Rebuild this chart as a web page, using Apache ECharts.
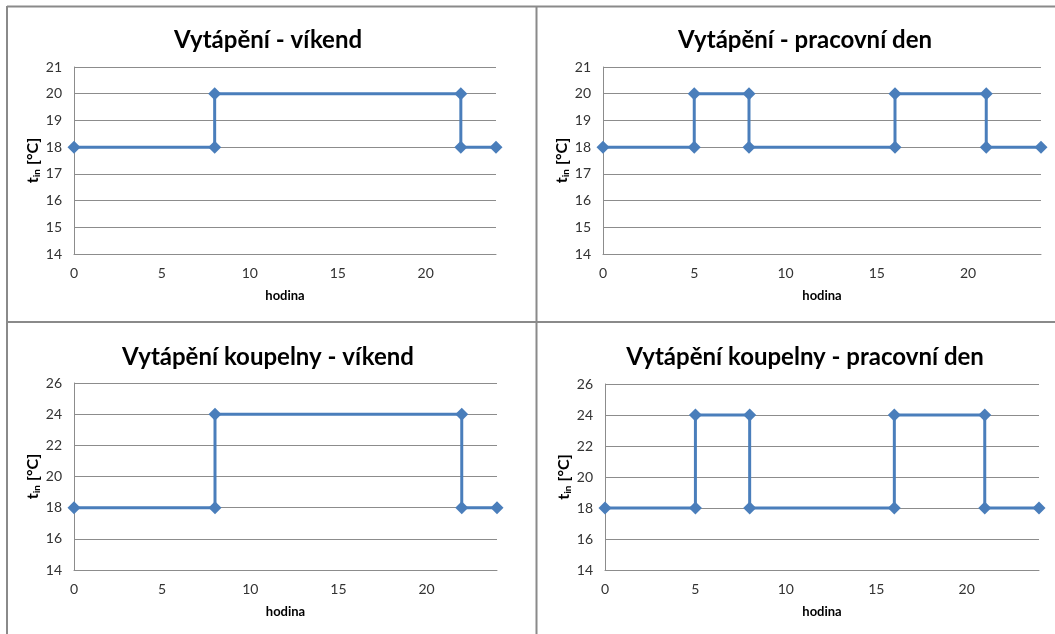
<!DOCTYPE html>
<html>
<head>
<meta charset="utf-8">
<script src="https://cdn.jsdelivr.net/npm/echarts@6/dist/echarts.min.js"></script>
<style>html,body{margin:0;padding:0;background:#fff}#c{width:1055px;height:634px}</style>
</head>
<body>
<div id="c"></div>
<script>
// ---- data ----
const titles = ['Vytápění - víkend', 'Vytápění - pracovní den', 'Vytápění koupelny - víkend', 'Vytápění koupelny - pracovní den'];
const xWeekend = [0, 8, 8, 22, 22, 24];
const yWeekend = [18, 18, 20, 20, 18, 18];
const xWorkday = [0, 5, 5, 8, 8, 16, 16, 21, 21, 24];
const yWorkday = [18, 18, 20, 20, 18, 18, 20, 20, 18, 18];
const xBathWeekend = [0, 8, 8, 22, 22, 24];
const yBathWeekend = [18, 18, 24, 24, 18, 18];
const xBathWorkday = [0, 5, 5, 8, 8, 16, 16, 21, 21, 24];
const yBathWorkday = [18, 18, 24, 24, 18, 18, 24, 24, 18, 18];
const xAxisName = 'hodina';
const yRangeTop = {min: 14, max: 21, interval: 1};
const yRangeBottom = {min: 14, max: 26, interval: 2};
const xRange = {min: 0, max: 24, interval: 5};

const zip = (xs, ys) => xs.map((x, i) => [x, ys[i]]);
const seriesData = [zip(xWeekend, yWeekend), zip(xWorkday, yWorkday), zip(xBathWeekend, yBathWeekend), zip(xBathWorkday, yBathWorkday)];
const yRanges = [yRangeTop, yRangeTop, yRangeBottom, yRangeBottom];

const FONT = 'Lato, "Open Sans", sans-serif';
const grids = [
  {left: 74, top: 67, width: 422, height: 187},
  {left: 603, top: 67, width: 438, height: 187},
  {left: 74, top: 383, width: 423, height: 187},
  {left: 605, top: 384, width: 434, height: 186}
];
const titleCenters = [[263, 35], [800, 35], [263, 352], [800, 352]];
const lineCol = '#8c8c8c';
const blue = '#4A7EBB';

const option = {
  animation: false,
  backgroundColor: '#fff',
  title: titles.map((t, i) => ({
    text: t,
    left: titleCenters[i][0], top: titleCenters[i][1],
    textAlign: 'center', textVerticalAlign: 'middle',
    textStyle: {fontFamily: FONT, fontWeight: 'bold', fontSize: 24, color: '#000'}
  })),
  grid: grids.map(g => Object.assign({containLabel: false}, g)),
  xAxis: grids.map((g, i) => ({
    type: 'value', gridIndex: i,
    min: xRange.min, max: xRange.max, interval: xRange.interval,
    name: xAxisName, nameLocation: 'middle', nameGap: 35,
    nameTextStyle: {fontFamily: FONT, fontWeight: 'bold', fontSize: 13, color: '#000'},
    axisLine: {show: true, lineStyle: {color: lineCol, width: 1}},
    axisTick: {show: false},
    splitLine: {show: false},
    axisLabel: {showMaxLabel: false, fontFamily: FONT, fontSize: 14, color: '#333', margin: 12}
  })),
  yAxis: grids.map((g, i) => ({
    type: 'value', gridIndex: i,
    min: yRanges[i].min, max: yRanges[i].max, interval: yRanges[i].interval,
    name: '{b|t}{s|in}{b| [°C]}', nameLocation: 'middle', nameGap: 27, nameRotate: 90,
    nameTextStyle: {
      fontFamily: FONT, fontWeight: 'bold', fontSize: 16, color: '#000',
      rich: {
        b: {fontFamily: FONT, fontWeight: 'bold', fontSize: 16, color: '#000', verticalAlign: 'middle'},
        s: {fontFamily: FONT, fontWeight: 'bold', fontSize: 10, color: '#000', padding: [8, 0, 0, 0], verticalAlign: 'middle'}
      }
    },
    axisLine: {show: true, lineStyle: {color: lineCol, width: 1}},
    axisTick: {show: false},
    splitLine: {show: true, lineStyle: {color: lineCol, width: 1}},
    axisLabel: {fontFamily: FONT, fontSize: 14, color: '#333', margin: 12}
  })),
  series: seriesData.map((d, i) => ({
    type: 'line', xAxisIndex: i, yAxisIndex: i,
    data: d,
    symbol: 'diamond', symbolSize: 13,
    lineStyle: {color: blue, width: 3},
    itemStyle: {color: blue},
    z: 3
  })),
  graphic: [
    {type: 'line', shape: {x1: 7, y1: 6.5, x2: 1055, y2: 6.5}, style: {stroke: '#8a8a8a', lineWidth: 2}},
    {type: 'line', shape: {x1: 7, y1: 6, x2: 7, y2: 634}, style: {stroke: '#8a8a8a', lineWidth: 2}},
    {type: 'line', shape: {x1: 536.5, y1: 6, x2: 536.5, y2: 634}, style: {stroke: '#8a8a8a', lineWidth: 2}},
    {type: 'line', shape: {x1: 7, y1: 322, x2: 1055, y2: 322}, style: {stroke: '#8a8a8a', lineWidth: 2}}
  ]
};
echarts.init(document.getElementById('c'), null, {renderer: 'canvas'}).setOption(option);
</script>
</body>
</html>
